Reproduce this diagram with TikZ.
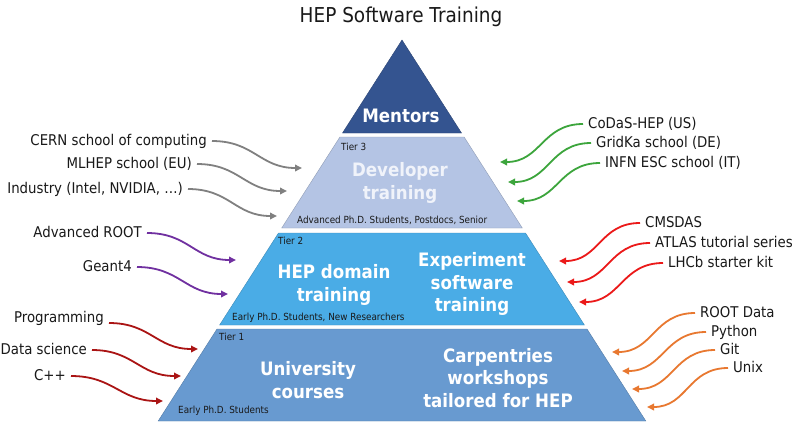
\documentclass[tikz,border=0pt]{standalone}
\usepackage{fontspec}
\setmainfont[FakeStretch=0.9]{DejaVu Sans}
\usetikzlibrary{arrows.meta}
\definecolor{mentorc}{RGB}{52,84,144}
\definecolor{tierthree}{RGB}{180,196,228}
\definecolor{tiertwo}{RGB}{74,172,230}
\definecolor{tierone}{RGB}{104,154,208}
\definecolor{devtext}{RGB}{240,243,250}
\definecolor{arrgray}{RGB}{128,128,128}
\definecolor{arrpurple}{RGB}{112,48,160}
\definecolor{arrdark}{RGB}{170,20,20}
\definecolor{arrgreen}{RGB}{60,165,60}
\definecolor{arrred}{RGB}{235,25,25}
\definecolor{arrorange}{RGB}{232,120,48}
\definecolor{txt}{RGB}{25,25,25}
\tikzset{
  lbl/.style={font=\fontsize{14.8}{16}\selectfont, text=txt, inner sep=0pt, inner xsep=5pt, text height=8pt, text depth=0pt},
  small/.style={font=\fontsize{9.8}{11}\selectfont, text=txt, inner sep=0pt, anchor=west, text height=5pt, text depth=0pt},
  big/.style={font=\bfseries\fontsize{18.5}{22.5}\selectfont, text=white, align=center, inner sep=0pt},
  band/.style={draw=#1!80!black, line width=0.4pt},
  conn/.style={line width=1.8pt, -{Triangle[length=7pt,width=6.5pt]}, looseness=1.15},
}
\begin{document}
\begin{tikzpicture}[x=1pt,y=-1pt]
\useasboundingbox (0,0) rectangle (800,424);
\fill[white] (0,0) rectangle (800,424);
% title
\node[font=\fontsize{20.5}{24}\selectfont, text=txt] (title) at (401,17) {HEP Software Training};
% pyramid bands
\fill[mentorc, band=mentorc] (402,40) -- (461.5,133) -- (342.5,133) -- cycle;
\fill[tierthree, band=tierthree] (339.9,137) -- (464.1,137) -- (522.3,228) -- (281.7,228) -- cycle;
\fill[tiertwo, band=tiertwo] (278.5,233) -- (525.5,233) -- (584.4,325) -- (219.6,325) -- cycle;
\fill[tierone, band=tierone] (217,329) -- (587,329) -- (645.8,421) -- (158.2,421) -- cycle;
% band texts
\node[big] (mentors) at (401,116) {Mentors};
\node[big, text=devtext] (dev) at (400,183) {Developer\\training};
\node[big] (hepdom) at (334,285) {HEP domain\\training};
\node[big] (expsw) at (472,284) {Experiment\\software\\training};
\node[big] (univ) at (308,380) {University\\courses};
\node[big] (carp) at (498,378) {Carpentries\\workshops\\tailored for HEP};
\node[small] (t3) at (341,148) {Tier 3};
\node[small] (t3who) at (297,221) {Advanced Ph.D. Students, Postdocs, Senior};
\node[small] (t2) at (278,242) {Tier 2};
\node[small] (t2who) at (232,318) {Early Ph.D. Students, New Researchers};
\node[small] (t1) at (219,338) {Tier 1};
\node[small] (t1who) at (178,411) {Early Ph.D. Students};
% left labels
\node[lbl, anchor=east] (cern) at (212,141) {CERN school of computing};
\node[lbl, anchor=east] (mlhep) at (197,164) {MLHEP school (EU)};
\node[lbl, anchor=east] (ind) at (188,189) {Industry (Intel, NVIDIA, …)};
\node[lbl, anchor=east] (aroot) at (147,233) {Advanced ROOT};
\node[lbl, anchor=east] (geant) at (137,267) {Geant4};
\node[lbl, anchor=east] (prog) at (109,318) {Programming};
\node[lbl, anchor=east] (datasci) at (92,350) {Data science};
\node[lbl, anchor=east] (cpp) at (71,376) {C++};
% right labels
\node[lbl, anchor=west] (codas) at (583,124) {CoDaS-HEP (US)};
\node[lbl, anchor=west] (gridka) at (591,143) {GridKa school (DE)};
\node[lbl, anchor=west] (infn) at (600,163) {INFN ESC school (IT)};
\node[lbl, anchor=west] (cmsdas) at (640,223) {CMSDAS};
\node[lbl, anchor=west] (atlas) at (650,243) {ATLAS tutorial series};
\node[lbl, anchor=west] (lhcb) at (663,263) {LHCb starter kit};
\node[lbl, anchor=west] (rdata) at (695,313) {ROOT Data};
\node[lbl, anchor=west] (python) at (706,332) {Python};
\node[lbl, anchor=west] (git) at (715,350) {Git};
\node[lbl, anchor=west] (unix) at (728,368) {Unix};
% arrow targets
\coordinate (ecern) at (302,168);
\coordinate (emlhep) at (287,191);
\coordinate (eind) at (277,216);
\coordinate (earoot) at (236,260);
\coordinate (egeant) at (228,294);
\coordinate (eprog) at (198,349);
\coordinate (edata) at (181,376);
\coordinate (ecpp) at (163,401);
\coordinate (ecodas) at (500,162);
\coordinate (egridka) at (508,182);
\coordinate (einfn) at (517,201);
\coordinate (ecms) at (559,261);
\coordinate (eatlas) at (567,282);
\coordinate (elhcb) at (579,302);
\coordinate (erdata) at (612,352);
\coordinate (epython) at (622,371);
\coordinate (egit) at (632,389);
\coordinate (eunix) at (647,407);
% left arrows
\draw[conn, arrgray] (cern.east) to[out=0,in=180] (ecern);
\draw[conn, arrgray] (mlhep.east) to[out=0,in=180] (emlhep);
\draw[conn, arrgray] (ind.east) to[out=0,in=180] (eind);
\draw[conn, arrpurple] (aroot.east) to[out=0,in=180] (earoot);
\draw[conn, arrpurple] (geant.east) to[out=0,in=180] (egeant);
\draw[conn, arrdark] ([yshift=-5pt]prog.east) to[out=0,in=180] (eprog);
\draw[conn, arrdark] (datasci.east) to[out=0,in=180] (edata);
\draw[conn, arrdark] (cpp.east) to[out=0,in=180] (ecpp);
% right arrows
\draw[conn, arrgreen] (codas.west) to[out=180,in=0] (ecodas);
\draw[conn, arrgreen] (gridka.west) to[out=180,in=0] (egridka);
\draw[conn, arrgreen] (infn.west) to[out=180,in=0] (einfn);
\draw[conn, arrred] (cmsdas.west) to[out=180,in=0] (ecms);
\draw[conn, arrred] (atlas.west) to[out=180,in=0] (eatlas);
\draw[conn, arrred] (lhcb.west) to[out=180,in=0] (elhcb);
\draw[conn, arrorange] (rdata.west) to[out=180,in=0] (erdata);
\draw[conn, arrorange] (python.west) to[out=180,in=0] (epython);
\draw[conn, arrorange] (git.west) to[out=180,in=0] (egit);
\draw[conn, arrorange] (unix.west) to[out=180,in=0] (eunix);
\end{tikzpicture}
\end{document}
